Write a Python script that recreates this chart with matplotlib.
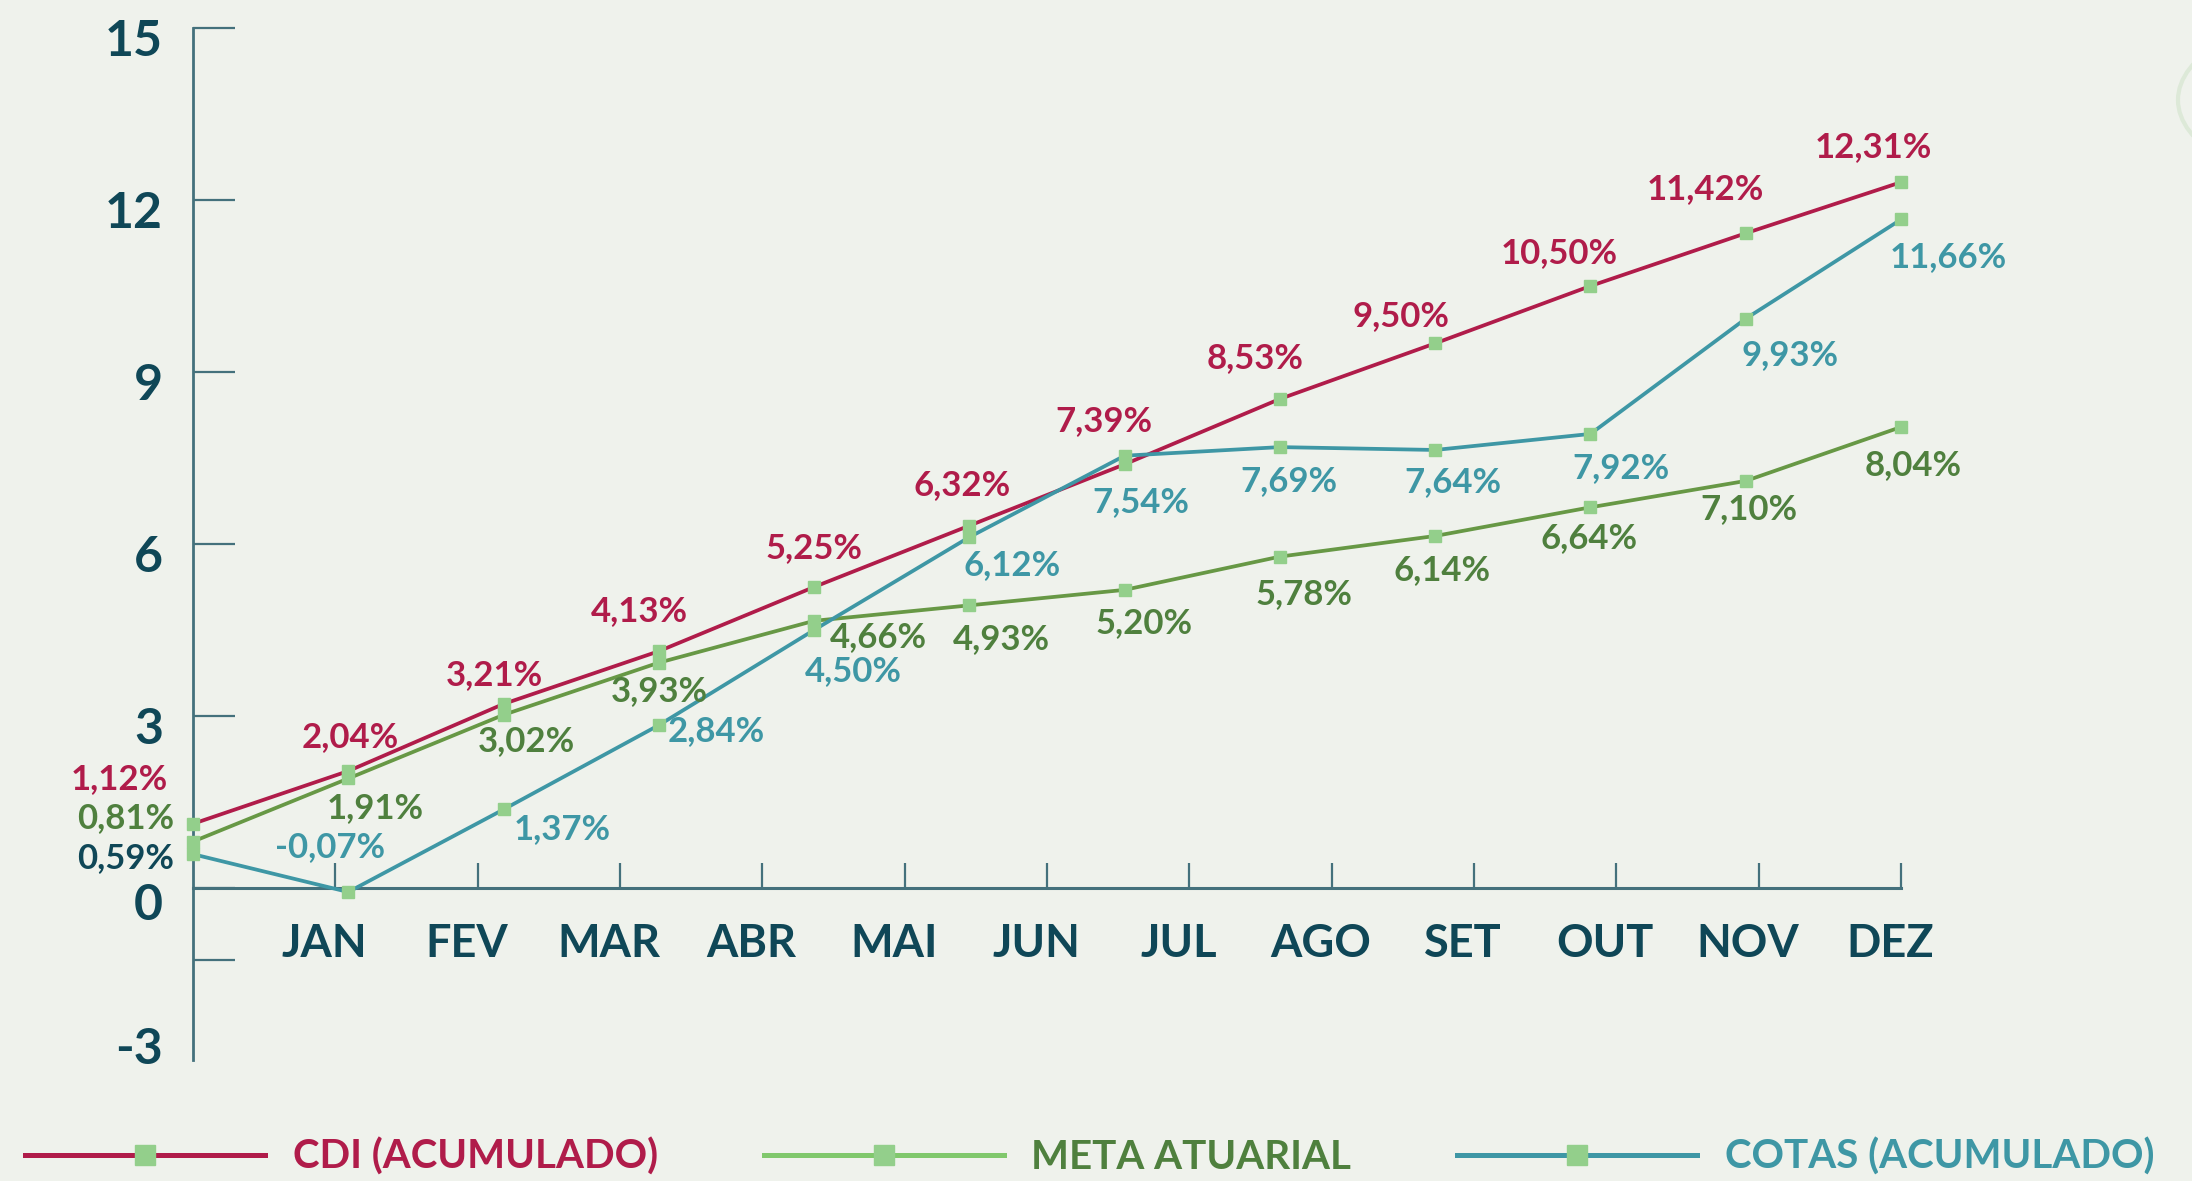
import numpy as np
import matplotlib
matplotlib.use("Agg")
import matplotlib.pyplot as plt
from matplotlib.lines import Line2D
from matplotlib.patches import Circle
from matplotlib.transforms import ScaledTranslation

# ---------------- data ----------------
months = ["JAN", "FEV", "MAR", "ABR", "MAI", "JUN", "JUL", "AGO", "SET", "OUT", "NOV", "DEZ"]
cdi = [1.12, 2.04, 3.21, 4.13, 5.25, 6.32, 7.39, 8.53, 9.50, 10.50, 11.42, 12.31]
meta = [0.81, 1.91, 3.02, 3.93, 4.66, 4.93, 5.20, 5.78, 6.14, 6.64, 7.10, 8.04]
cotas = [0.59, -0.07, 1.37, 2.84, 4.50, 6.12, 7.54, 7.69, 7.64, 7.92, 9.93, 11.66]
y_tick_values = [15, 12, 9, 6, 3, 0, -3]
series_names = ["CDI (ACUMULADO)", "META ATUARIAL", "COTAS (ACUMULADO)"]

# ---------------- layout / style ----------------
W, H, DPI = 2192, 1181, 100
BG = "#eff2ec"
AXC = "#44717c"
TXT = "#0f4757"
C_CDI = "#b01c4a"
C_META = "#679845"
C_META_TXT = "#4f803e"
C_META_LEG = "#80c86c"
C_COT = "#3e97a5"
MK = "#93cf8b"

FONT = ["Lato", "DejaVu Sans"]
plt.rcParams["font.family"] = FONT

# label offsets in pixels (dx right, dy down)
off_cdi = [(-74, -45), (2, -34), (-9, -29), (-19, -40), (0, -39), (-7, -41),
           (-21, -43), (-25, -41), (-34, -27), (-31, -33), (-40, -44), (-28, -35)]
off_meta = [(-67, -24), (27, 30), (23, 26), (1, 28), (64, 16), (32, 34),
            (19, 33), (24, 37), (7, 34), (-1, 31), (3, 28), (12, 38)]
off_cot = [(-67, 4), (-18, -45), (59, 20), (57, 6), (39, 41), (43, 28),
           (16, 46), (9, 34), (18, 32), (31, 34), (44, 36), (47, 38)]

fig = plt.figure(figsize=(W / DPI, H / DPI), dpi=DPI, facecolor=BG)
left = 193 / W
right = 1901 / W
bottom = (H - 1060) / H
top = (H - 28) / H
ax = fig.add_axes([left, bottom, right - left, top - bottom], facecolor=BG)

# faint decorative arc at the top right
fig.patches.append(Circle((2330 / W, (H - 100) / H), 152 / W, transform=fig.transFigure,
                          fill=False, edgecolor="#dde9d8", lw=3, zorder=0))

x_pts = np.linspace(0, len(months), len(cdi))
x_ticks = np.arange(1, len(months) + 1)

ax.set_xlim(0, len(months))
ax.set_ylim(-3, 15)

for vals, col in [(cdi, C_CDI), (meta, C_META), (cotas, C_COT)]:
    ax.plot(x_pts, vals, color=col, lw=2.7, marker="s", markersize=9,
            markerfacecolor=MK, markeredgecolor=MK, zorder=3, clip_on=False,
            solid_capstyle="butt")

def fmt(v):
    return f"{v:.2f}".replace(".", ",") + "%"

for vals, offs, col in [(cdi, off_cdi, C_CDI), (meta, off_meta, C_META_TXT), (cotas, off_cot, C_COT)]:
    for i, (xv, v) in enumerate(zip(x_pts, vals)):
        c = col
        if vals is cotas and i == 0:
            c = TXT
        dx, dy = offs[i]
        ax.annotate(fmt(v), (xv, v), xytext=(dx, -dy), textcoords="offset pixels",
                    ha="center", va="center", fontsize=25, fontweight="bold",
                    color=c, zorder=5, annotation_clip=False)

# spines
for s in ["top", "right"]:
    ax.spines[s].set_visible(False)
ax.spines["left"].set_color(AXC)
ax.spines["left"].set_linewidth(2.0)
ax.spines["bottom"].set_position(("data", 0))
ax.spines["bottom"].set_color(AXC)
ax.spines["bottom"].set_linewidth(2.2)

# x ticks
ax.set_xticks(x_ticks)
ax.set_xticklabels(months)
ax.tick_params(axis="x", direction="in", length=18, width=1.6, color=AXC,
               pad=25, labelsize=32.5, labelcolor=TXT)
shift = ScaledTranslation(-11 / DPI, 0, fig.dpi_scale_trans)
for lbl in ax.get_xticklabels():
    lbl.set_fontweight("bold")
    lbl.set_transform(lbl.get_transform() + shift)

# y ticks (marks only; labels drawn as text)
ax.set_yticks([15, 12, 9, 6, 3, 0, -1.25])
ax.set_yticklabels([])
ax.tick_params(axis="y", direction="in", length=30, width=1.6, color=AXC)

for v in y_tick_values:
    dy = 10 if v == -3 else -13
    if v == 0:
        dy = -17
    ax.annotate(str(v), (0, v), xytext=(-30, dy), textcoords="offset pixels",
                ha="right", va="center", fontsize=36, fontweight="bold",
                color=TXT, annotation_clip=False)

# legend
handles = [
    Line2D([], [], color=C_CDI, lw=3.6, marker="s", markersize=15, markerfacecolor=MK, markeredgecolor=MK),
    Line2D([], [], color=C_META_LEG, lw=3.6, marker="s", markersize=15, markerfacecolor=MK, markeredgecolor=MK),
    Line2D([], [], color=C_COT, lw=3.6, marker="s", markersize=15, markerfacecolor=MK, markeredgecolor=MK),
]
leg = fig.legend(handles, series_names, loc="center left",
                 bbox_to_anchor=(25 / W, 24 / H), ncol=3, frameon=False,
                 handlelength=5.97, handletextpad=0.68,
                 columnspacing=2.62, borderpad=0, borderaxespad=0, numpoints=1,
                 prop={"weight": "bold", "size": 29, "family": FONT})
for t, c in zip(leg.get_texts(), [C_CDI, C_META_TXT, C_COT]):
    t.set_color(c)

fig.savefig("out.png", dpi=DPI, facecolor=BG)
